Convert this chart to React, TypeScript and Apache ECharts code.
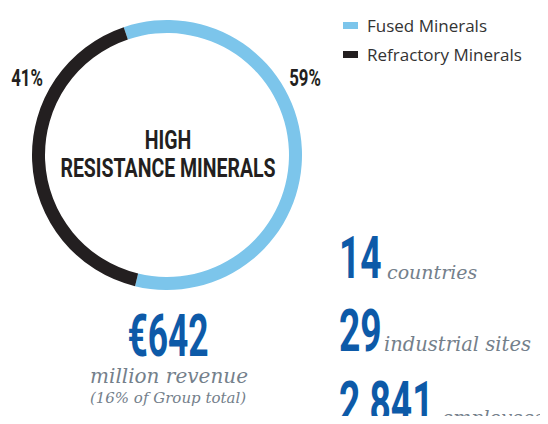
import React, { useEffect, useRef } from "react";
import * as echarts from "echarts";

const categories = ["Fused Minerals", "Refractory Minerals"];
const shares = [59, 41];
const colors = ["#7cc5eb", "#231f20"];
const centerTitle = ["HIGH", "RESISTANCE MINERALS"];
const revenueValue = "€642";
const revenueLines = ["million revenue", "(16% of Group total)"];
const statValues = ["14", "29", "2,841"];
const statLabels = ["countries", "industrial sites", "employees"];

const COND = "Roboto, 'Liberation Sans', sans-serif";
const SERIF = "'DejaVu Serif', 'Liberation Serif', serif";
const BLUE = "#0d5aa8";
const GRAY = "#74808b";

export default function App() {
  const ref = useRef<HTMLDivElement>(null);
  useEffect(() => {
    if (!ref.current) return;
    const chart = echarts.init(ref.current, undefined, { renderer: "svg" });
    const cx = 167;
    const cy = 155;
    const condText = (text: string, x: number, y: number, size: number, color: string, sx: number, align: string = "left") => ({
      type: "text",
      x,
      y,
      scaleX: sx,
      style: {
        text,
        fontFamily: COND,
        fontWeight: "bold",
        fontSize: size,
        fill: color,
        textAlign: align,
        textVerticalAlign: "middle",
      },
    });
    const serifText = (text: string, x: number, y: number, size: number, align: string = "left") => ({
      type: "text",
      x,
      y,
      style: {
        text,
        fontFamily: SERIF,
        fontStyle: "italic",
        fontWeight: "normal",
        fontSize: size,
        fill: GRAY,
        textAlign: align,
        textVerticalAlign: "bottom",
      },
    });
    const statY = [258, 331, 403];
    const statLabelX = [387, 384, 442];
    const statLabelSize = [19, 19.5, 19];
    const graphics: any[] = [
      condText(centerTitle[0], cx + 1, 141, 26, "#231f20", 0.75, "center"),
      condText(centerTitle[1], cx + 1, 169, 26, "#231f20", 0.75, "center"),
      condText(shares[1] + "%", 27, 78, 24, "#231f20", 0.7, "center"),
      condText(shares[0] + "%", 305, 78, 24, "#231f20", 0.7, "center"),
      condText(revenueValue, 168, 336, 59, BLUE, 0.6, "center"),
      serifText(revenueLines[0], 169, 386, 20, "center"),
      serifText(revenueLines[1], 168, 405, 15, "center"),
    ];
    statValues.forEach((v, i) => {
      graphics.push(condText(v, 339, statY[i], 60, BLUE, 0.62, "left"));
      graphics.push(serifText(statLabels[i], statLabelX[i], statY[i] + 23, statLabelSize[i], "left"));
    });
    chart.setOption({
      animation: false,
      legend: {
        orient: "vertical",
        left: 338,
        top: 12,
        icon: "rect",
        itemWidth: 15,
        itemHeight: 7,
        itemGap: 12,
        selectedMode: false,
        data: categories,
        textStyle: { fontSize: 17, color: "#333333", fontFamily: "'Open Sans', sans-serif", padding: [0, 0, 0, 4] },
      },
      series: [
        {
          type: "pie",
          radius: [122, 135],
          center: [cx, cy],
          startAngle: 108.7,
          clockwise: true,
          label: { show: false },
          labelLine: { show: false },
          emphasis: { disabled: true },
          silent: true,
          data: categories.map((c, i) => ({ name: c, value: shares[i], itemStyle: { color: colors[i] } })),
        },
      ],
      graphic: graphics,
    });
    return () => chart.dispose();
  }, []);
  return <div ref={ref} style={{ width: 548, height: 424, margin: -8, overflow: "hidden" }} />;
}
